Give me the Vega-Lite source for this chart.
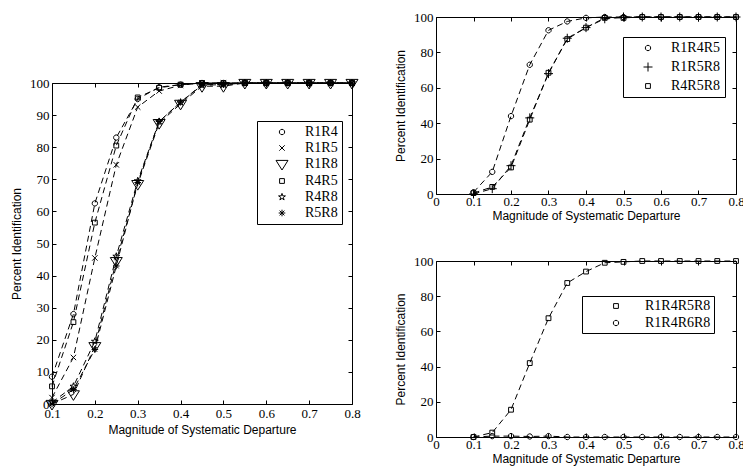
{
  "$schema": "https://vega.github.io/schema/vega-lite/v6.json",
  "background": "white",
  "padding": {"left": 10, "top": 10, "right": 5, "bottom": 5},
  "spacing": 33,
  "resolve": {"scale": {"shape": "independent"}, "legend": {"shape": "independent"}},
  "config": {
    "view": {"stroke": "black", "strokeWidth": 1},
    "axis": {
      "grid": false,
      "domain": false,
      "labelFont": "Liberation Serif",
      "labelFontSize": 13,
      "labelColor": "black",
      "labelFlush": false,
      "titleFont": "Liberation Sans",
      "titleFontSize": 12,
      "titleFontWeight": "normal",
      "titleColor": "black",
      "tickColor": "black",
      "tickSize": -4,
      "labelPadding": 7
    },
    "legend": {
      "orient": "none",
      "title": null,
      "fillColor": "white",
      "strokeColor": "black",
      "labelFont": "Liberation Serif",
      "labelFontSize": 14,
      "labelColor": "black",
      "symbolSize": 144,
      "symbolStrokeWidth": 1,
      "symbolStrokeColor": "black",
      "symbolFillColor": "transparent",
      "padding": 4,
      "rowPadding": 2,
      "symbolOffset": 14,
      "labelOffset": 16
    }
  },
  "datasets": {
    "left": [
      {"series":"R1R4","x":0.1,"y":8.5},{"series":"R1R4","x":0.15,"y":28},{"series":"R1R4","x":0.2,"y":62.5},{"series":"R1R4","x":0.25,"y":83},{"series":"R1R4","x":0.3,"y":95},{"series":"R1R4","x":0.35,"y":98.7},{"series":"R1R4","x":0.4,"y":99.5},{"series":"R1R4","x":0.45,"y":100},{"series":"R1R4","x":0.5,"y":100},{"series":"R1R4","x":0.55,"y":100},{"series":"R1R4","x":0.6,"y":100},{"series":"R1R4","x":0.65,"y":100},{"series":"R1R4","x":0.7,"y":100},{"series":"R1R4","x":0.75,"y":100},{"series":"R1R4","x":0.8,"y":100},
      {"series":"R1R5","x":0.1,"y":2},{"series":"R1R5","x":0.15,"y":14.5},{"series":"R1R5","x":0.2,"y":45.5},{"series":"R1R5","x":0.25,"y":74.5},{"series":"R1R5","x":0.3,"y":92.5},{"series":"R1R5","x":0.35,"y":97.5},{"series":"R1R5","x":0.4,"y":99.3},{"series":"R1R5","x":0.45,"y":100},{"series":"R1R5","x":0.5,"y":100},{"series":"R1R5","x":0.55,"y":100},{"series":"R1R5","x":0.6,"y":100},{"series":"R1R5","x":0.65,"y":100},{"series":"R1R5","x":0.7,"y":100},{"series":"R1R5","x":0.75,"y":100},{"series":"R1R5","x":0.8,"y":100},
      {"series":"R1R8","x":0.1,"y":0},{"series":"R1R8","x":0.15,"y":3},{"series":"R1R8","x":0.2,"y":18},{"series":"R1R8","x":0.25,"y":44.5},{"series":"R1R8","x":0.3,"y":68.5},{"series":"R1R8","x":0.35,"y":87.5},{"series":"R1R8","x":0.4,"y":93.5},{"series":"R1R8","x":0.45,"y":99},{"series":"R1R8","x":0.5,"y":99},{"series":"R1R8","x":0.55,"y":100},{"series":"R1R8","x":0.6,"y":100},{"series":"R1R8","x":0.65,"y":100},{"series":"R1R8","x":0.7,"y":100},{"series":"R1R8","x":0.75,"y":100},{"series":"R1R8","x":0.8,"y":100},
      {"series":"R4R5","x":0.1,"y":5.5},{"series":"R4R5","x":0.15,"y":25.5},{"series":"R4R5","x":0.2,"y":56.5},{"series":"R4R5","x":0.25,"y":80.5},{"series":"R4R5","x":0.3,"y":95.5},{"series":"R4R5","x":0.35,"y":98.5},{"series":"R4R5","x":0.4,"y":99.5},{"series":"R4R5","x":0.45,"y":100},{"series":"R4R5","x":0.5,"y":100},{"series":"R4R5","x":0.55,"y":100},{"series":"R4R5","x":0.6,"y":100},{"series":"R4R5","x":0.65,"y":100},{"series":"R4R5","x":0.7,"y":100},{"series":"R4R5","x":0.75,"y":100},{"series":"R4R5","x":0.8,"y":100},
      {"series":"R4R8","x":0.1,"y":0.5},{"series":"R4R8","x":0.15,"y":5.5},{"series":"R4R8","x":0.2,"y":19.5},{"series":"R4R8","x":0.25,"y":46},{"series":"R4R8","x":0.3,"y":69.5},{"series":"R4R8","x":0.35,"y":88},{"series":"R4R8","x":0.4,"y":94},{"series":"R4R8","x":0.45,"y":99.3},{"series":"R4R8","x":0.5,"y":99.5},{"series":"R4R8","x":0.55,"y":100},{"series":"R4R8","x":0.6,"y":100},{"series":"R4R8","x":0.65,"y":100},{"series":"R4R8","x":0.7,"y":100},{"series":"R4R8","x":0.75,"y":100},{"series":"R4R8","x":0.8,"y":100},
      {"series":"R5R8","x":0.1,"y":0},{"series":"R5R8","x":0.15,"y":4.5},{"series":"R5R8","x":0.2,"y":17},{"series":"R5R8","x":0.25,"y":43},{"series":"R5R8","x":0.3,"y":69},{"series":"R5R8","x":0.35,"y":88},{"series":"R5R8","x":0.4,"y":94},{"series":"R5R8","x":0.45,"y":99.5},{"series":"R5R8","x":0.5,"y":99.5},{"series":"R5R8","x":0.55,"y":100},{"series":"R5R8","x":0.6,"y":100},{"series":"R5R8","x":0.65,"y":100},{"series":"R5R8","x":0.7,"y":100},{"series":"R5R8","x":0.75,"y":100},{"series":"R5R8","x":0.8,"y":100}
    ],
    "tr": [
      {"series":"R1R4R5","x":0.1,"y":1},{"series":"R1R4R5","x":0.15,"y":12.5},{"series":"R1R4R5","x":0.2,"y":44},{"series":"R1R4R5","x":0.25,"y":73},{"series":"R1R4R5","x":0.3,"y":92.5},{"series":"R1R4R5","x":0.35,"y":97.5},{"series":"R1R4R5","x":0.4,"y":99.5},{"series":"R1R4R5","x":0.45,"y":100},{"series":"R1R4R5","x":0.5,"y":100},{"series":"R1R4R5","x":0.55,"y":100},{"series":"R1R4R5","x":0.6,"y":100},{"series":"R1R4R5","x":0.65,"y":100},{"series":"R1R4R5","x":0.7,"y":100},{"series":"R1R4R5","x":0.75,"y":100},{"series":"R1R4R5","x":0.8,"y":100},
      {"series":"R1R5R8","x":0.1,"y":0},{"series":"R1R5R8","x":0.15,"y":3},{"series":"R1R5R8","x":0.2,"y":16},{"series":"R1R5R8","x":0.25,"y":43},{"series":"R1R5R8","x":0.3,"y":68},{"series":"R1R5R8","x":0.35,"y":88},{"series":"R1R5R8","x":0.4,"y":94},{"series":"R1R5R8","x":0.45,"y":99},{"series":"R1R5R8","x":0.5,"y":100},{"series":"R1R5R8","x":0.55,"y":100},{"series":"R1R5R8","x":0.6,"y":100},{"series":"R1R5R8","x":0.65,"y":100},{"series":"R1R5R8","x":0.7,"y":100},{"series":"R1R5R8","x":0.75,"y":100},{"series":"R1R5R8","x":0.8,"y":100},
      {"series":"R4R5R8","x":0.1,"y":0.5},{"series":"R4R5R8","x":0.15,"y":4},{"series":"R4R5R8","x":0.2,"y":15},{"series":"R4R5R8","x":0.25,"y":42},{"series":"R4R5R8","x":0.3,"y":68.5},{"series":"R4R5R8","x":0.35,"y":87.5},{"series":"R4R5R8","x":0.4,"y":94},{"series":"R4R5R8","x":0.45,"y":99.5},{"series":"R4R5R8","x":0.5,"y":99.5},{"series":"R4R5R8","x":0.55,"y":100},{"series":"R4R5R8","x":0.6,"y":100},{"series":"R4R5R8","x":0.65,"y":100},{"series":"R4R5R8","x":0.7,"y":100},{"series":"R4R5R8","x":0.75,"y":100},{"series":"R4R5R8","x":0.8,"y":100}
    ],
    "br": [
      {"series":"R1R4R5R8","x":0.1,"y":0},{"series":"R1R4R5R8","x":0.15,"y":2.5},{"series":"R1R4R5R8","x":0.2,"y":15.5},{"series":"R1R4R5R8","x":0.25,"y":42},{"series":"R1R4R5R8","x":0.3,"y":67.5},{"series":"R1R4R5R8","x":0.35,"y":87.5},{"series":"R1R4R5R8","x":0.4,"y":94},{"series":"R1R4R5R8","x":0.45,"y":99},{"series":"R1R4R5R8","x":0.5,"y":99.5},{"series":"R1R4R5R8","x":0.55,"y":100},{"series":"R1R4R5R8","x":0.6,"y":100},{"series":"R1R4R5R8","x":0.65,"y":100},{"series":"R1R4R5R8","x":0.7,"y":100},{"series":"R1R4R5R8","x":0.75,"y":100},{"series":"R1R4R5R8","x":0.8,"y":100},
      {"series":"R1R4R6R8","x":0.1,"y":0},{"series":"R1R4R6R8","x":0.15,"y":0.5},{"series":"R1R4R6R8","x":0.2,"y":0.5},{"series":"R1R4R6R8","x":0.25,"y":0.3},{"series":"R1R4R6R8","x":0.3,"y":0.5},{"series":"R1R4R6R8","x":0.35,"y":0},{"series":"R1R4R6R8","x":0.4,"y":0},{"series":"R1R4R6R8","x":0.45,"y":0},{"series":"R1R4R6R8","x":0.5,"y":0},{"series":"R1R4R6R8","x":0.55,"y":0},{"series":"R1R4R6R8","x":0.6,"y":0},{"series":"R1R4R6R8","x":0.65,"y":0},{"series":"R1R4R6R8","x":0.7,"y":0},{"series":"R1R4R6R8","x":0.75,"y":0},{"series":"R1R4R6R8","x":0.8,"y":0}
    ],
    "blank": [{"series": "none"}]
  },
  "hconcat": [
    {
      "spacing": 6,
      "resolve": {"scale": {"shape": "independent"}, "legend": {"shape": "independent"}},
      "vconcat": [
        {
          "width": 300,
          "height": 53,
          "view": {"stroke": null},
          "data": {"name": "blank"},
          "mark": {"type": "point", "opacity": 0},
          "encoding": {}
        },
        {
          "width": 300,
          "height": 321,
          "data": {"name": "left"},
          "layer": [
            {
              "mark": {"type": "line", "color": "black", "strokeWidth": 1, "strokeDash": [6, 4]},
              "encoding": {
                "x": {"field": "x", "type": "quantitative", "scale": {"domain": [0.1, 0.8], "nice": false}, "axis": {"orient": "top", "labels": false, "title": null, "values": [0.1,0.2,0.3,0.4,0.5,0.6,0.7,0.8]}},
                "y": {"field": "y", "type": "quantitative", "scale": {"domain": [0, 100], "nice": false}, "axis": {"orient": "right", "labels": false, "title": null, "values": [0,10,20,30,40,50,60,70,80,90,100]}},
                "detail": {"field": "series", "type": "nominal"}
              }
            },
            {
              "mark": {"type": "point", "filled": false, "color": "black", "strokeWidth": 1, "opacity": 1, "size": 144},
              "encoding": {
                "x": {"field": "x", "type": "quantitative", "scale": {"domain": [0.1, 0.8], "nice": false}, "axis": {"orient": "bottom", "title": "Magnitude of Systematic Departure", "values": [0.1,0.2,0.3,0.4,0.5,0.6,0.7,0.8], "format": ".1f", "titlePadding": 4}},
                "y": {"field": "y", "type": "quantitative", "scale": {"domain": [0, 100], "nice": false}, "axis": {"orient": "left", "title": "Percent Identification", "values": [0,10,20,30,40,50,60,70,80,90,100], "titlePadding": 6}},
                "shape": {
                  "field": "series", "type": "nominal",
                  "scale": {
                    "domain": ["R1R4","R1R5","R1R8","R4R5","R4R8","R5R8"],
                    "range": [
                      "M0.45,0L0.39,0.225L0.225,0.39L0,0.45L-0.225,0.39L-0.39,0.225L-0.45,0L-0.39,-0.225L-0.225,-0.39L0,-0.45L0.225,-0.39L0.39,-0.225Z",
                      "M-0.45,-0.45L0.45,0.45M-0.45,0.45L0.45,-0.45",
                      "M-1,-0.6L1,-0.6L0,1Z",
                      "M-0.4,-0.4L0.4,-0.4L0.4,0.4L-0.4,0.4Z",
                      "M0,-0.6L0.135,-0.185L0.571,-0.185L0.218,0.071L0.353,0.485L0,0.229L-0.353,0.485L-0.218,0.071L-0.571,-0.185L-0.135,-0.185Z",
                      "M0,-0.55L0,0.55M-0.55,0L0.55,0M-0.4,-0.4L0.4,0.4M-0.4,0.4L0.4,-0.4"
                    ]
                  },
                  "legend": {
                    "legendX": 205, "legendY": 38,
                    "encode": {"symbols": {"shape": {"value": {"expr": "(datum.value === 'R1R4' ? 'M0.45,0L0.39,0.225L0.225,0.39L0,0.45L-0.225,0.39L-0.39,0.225L-0.45,0L-0.39,-0.225L-0.225,-0.39L0,-0.45L0.225,-0.39L0.39,-0.225Z' : datum.value === 'R1R5' ? 'M-0.45,-0.45L0.45,0.45M-0.45,0.45L0.45,-0.45' : datum.value === 'R1R8' ? 'M-1,-0.6L1,-0.6L0,1Z' : datum.value === 'R4R5' ? 'M-0.4,-0.4L0.4,-0.4L0.4,0.4L-0.4,0.4Z' : datum.value === 'R4R8' ? 'M0,-0.6L0.135,-0.185L0.571,-0.185L0.218,0.071L0.353,0.485L0,0.229L-0.353,0.485L-0.218,0.071L-0.571,-0.185L-0.135,-0.185Z' : 'M0,-0.55L0,0.55M-0.55,0L0.55,0M-0.4,-0.4L0.4,0.4M-0.4,0.4L0.4,-0.4') + 'M-2.7,0L-1.3,0M-0.7,0L0.7,0M1.3,0L2.7,0'"}}}}
                  }
                }
              }
            }
          ],
          "resolve": {"axis": {"x": "independent", "y": "independent"}}
        }
      ]
    },
    {
      "spacing": 32,
      "resolve": {"scale": {"shape": "independent"}, "legend": {"shape": "independent"}},
      "vconcat": [
        {
          "width": 300,
          "height": 177,
          "data": {"name": "tr"},
          "layer": [
            {
              "mark": {"type": "line", "color": "black", "strokeWidth": 1, "strokeDash": [6, 4]},
              "encoding": {
                "x": {"field": "x", "type": "quantitative", "scale": {"domain": [0, 0.8], "nice": false}, "axis": {"orient": "top", "labels": false, "title": null, "values": [0,0.1,0.2,0.3,0.4,0.5,0.6,0.7,0.8]}},
                "y": {"field": "y", "type": "quantitative", "scale": {"domain": [0, 100], "nice": false}, "axis": {"orient": "right", "labels": false, "title": null, "values": [0,20,40,60,80,100]}},
                "detail": {"field": "series", "type": "nominal"}
              }
            },
            {
              "mark": {"type": "point", "filled": false, "color": "black", "strokeWidth": 1, "opacity": 1, "size": 144},
              "encoding": {
                "x": {"field": "x", "type": "quantitative", "scale": {"domain": [0, 0.8], "nice": false}, "axis": {"orient": "bottom", "title": "Magnitude of Systematic Departure", "values": [0,0.1,0.2,0.3,0.4,0.5,0.6,0.7,0.8], "format": ".1~f", "labelPadding": 5, "titlePadding": 2}},
                "y": {"field": "y", "type": "quantitative", "scale": {"domain": [0, 100], "nice": false}, "axis": {"orient": "left", "title": "Percent Identification", "values": [0,20,40,60,80,100], "titlePadding": 6}},
                "shape": {
                  "field": "series", "type": "nominal",
                  "scale": {
                    "domain": ["R1R4R5","R1R5R8","R4R5R8"],
                    "range": [
                      "M0.45,0L0.39,0.225L0.225,0.39L0,0.45L-0.225,0.39L-0.39,0.225L-0.45,0L-0.39,-0.225L-0.225,-0.39L0,-0.45L0.225,-0.39L0.39,-0.225Z",
                      "M0,-0.75L0,0.75M-0.75,0L0.75,0",
                      "M-0.4,-0.4L0.4,-0.4L0.4,0.4L-0.4,0.4Z"
                    ]
                  },
                  "legend": {
                    "legendX": 187, "legendY": 20, "rowPadding": 5,
                    "encode": {"symbols": {"shape": {"value": {"expr": "(datum.value === 'R1R4R5' ? 'M0.45,0L0.39,0.225L0.225,0.39L0,0.45L-0.225,0.39L-0.39,0.225L-0.45,0L-0.39,-0.225L-0.225,-0.39L0,-0.45L0.225,-0.39L0.39,-0.225Z' : datum.value === 'R1R5R8' ? 'M0,-0.75L0,0.75M-0.75,0L0.75,0' : 'M-0.4,-0.4L0.4,-0.4L0.4,0.4L-0.4,0.4Z') + 'M-2.7,0L-1.3,0M-0.7,0L0.7,0M1.3,0L2.7,0'"}}}}
                  }
                }
              }
            }
          ],
          "resolve": {"axis": {"x": "independent", "y": "independent"}}
        },
        {
          "width": 300,
          "height": 176,
          "data": {"name": "br"},
          "layer": [
            {
              "mark": {"type": "line", "color": "black", "strokeWidth": 1, "strokeDash": [6, 4]},
              "encoding": {
                "x": {"field": "x", "type": "quantitative", "scale": {"domain": [0, 0.8], "nice": false}, "axis": {"orient": "top", "labels": false, "title": null, "values": [0,0.1,0.2,0.3,0.4,0.5,0.6,0.7,0.8]}},
                "y": {"field": "y", "type": "quantitative", "scale": {"domain": [0, 100], "nice": false}, "axis": {"orient": "right", "labels": false, "title": null, "values": [0,20,40,60,80,100]}},
                "detail": {"field": "series", "type": "nominal"}
              }
            },
            {
              "mark": {"type": "point", "filled": false, "color": "black", "strokeWidth": 1, "opacity": 1, "size": 144},
              "encoding": {
                "x": {"field": "x", "type": "quantitative", "scale": {"domain": [0, 0.8], "nice": false}, "axis": {"orient": "bottom", "title": "Magnitude of Systematic Departure", "values": [0,0.1,0.2,0.3,0.4,0.5,0.6,0.7,0.8], "format": ".1~f", "labelPadding": 5, "titlePadding": 2}},
                "y": {"field": "y", "type": "quantitative", "scale": {"domain": [0, 100], "nice": false}, "axis": {"orient": "left", "title": "Percent Identification", "values": [0,20,40,60,80,100], "titlePadding": 6}},
                "shape": {
                  "field": "series", "type": "nominal",
                  "scale": {
                    "domain": ["R1R4R5R8","R1R4R6R8"],
                    "range": [
                      "M-0.4,-0.4L0.4,-0.4L0.4,0.4L-0.4,0.4Z",
                      "M0.45,0L0.39,0.225L0.225,0.39L0,0.45L-0.225,0.39L-0.39,0.225L-0.45,0L-0.39,-0.225L-0.225,-0.39L0,-0.45L0.225,-0.39L0.39,-0.225Z"
                    ]
                  },
                  "legend": {
                    "legendX": 146, "legendY": 35, "rowPadding": 3, "padding": 3, "symbolOffset": 24, "labelOffset": 22,
                    "encode": {"symbols": {"shape": {"value": {"expr": "(datum.value === 'R1R4R5R8' ? 'M-0.4,-0.4L0.4,-0.4L0.4,0.4L-0.4,0.4Z' : 'M0.45,0L0.39,0.225L0.225,0.39L0,0.45L-0.225,0.39L-0.39,0.225L-0.45,0L-0.39,-0.225L-0.225,-0.39L0,-0.45L0.225,-0.39L0.39,-0.225Z') + 'M-3.7,0L-2.5,0M-2,0L-0.8,0M-0.4,0L0.4,0M0.8,0L2,0M2.5,0L3.7,0'"}}}}
                  }
                }
              }
            }
          ],
          "resolve": {"axis": {"x": "independent", "y": "independent"}}
        }
      ]
    }
  ]
}
